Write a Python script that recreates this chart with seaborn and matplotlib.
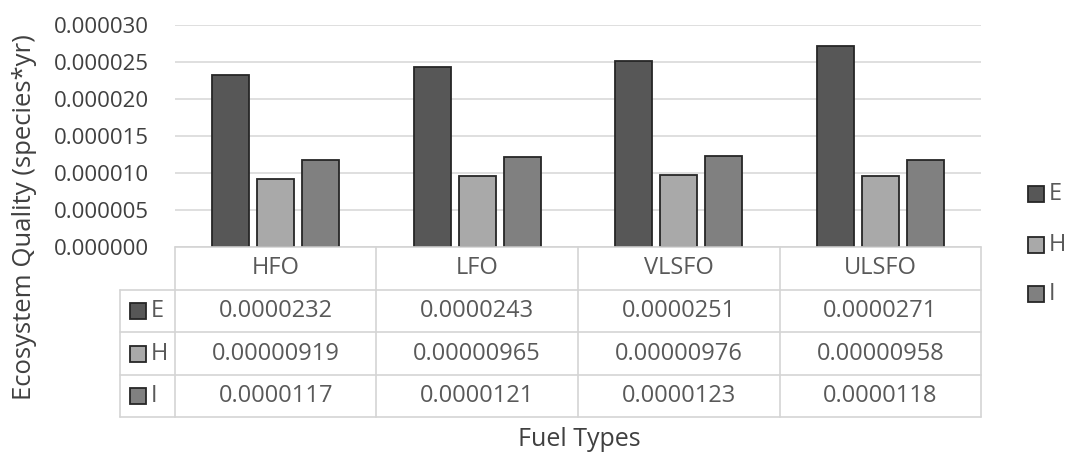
import pandas as pd
import numpy as np
import seaborn as sns
import matplotlib.pyplot as plt
from matplotlib.patches import Rectangle

fuels = ["HFO", "LFO", "VLSFO", "ULSFO"]
series = ["E", "H", "I"]
e_vals = [0.0000232, 0.0000243, 0.0000251, 0.0000271]
h_vals = [0.00000919, 0.00000965, 0.00000976, 0.00000958]
i_vals = [0.0000117, 0.0000121, 0.0000123, 0.0000118]
e_txt = ["0.0000232", "0.0000243", "0.0000251", "0.0000271"]
h_txt = ["0.00000919", "0.00000965", "0.00000976", "0.00000958"]
i_txt = ["0.0000117", "0.0000121", "0.0000123", "0.0000118"]
yticks = [0, 0.000005, 0.00001, 0.000015, 0.00002, 0.000025, 0.00003]

colors = {"E": "#575757", "H": "#a9a9a9", "I": "#808080"}
txtcol = "#595959"

sns.set_theme(style="white")
plt.rcParams['font.family'] = ['Open Sans', 'DejaVu Sans']

W, H = 1065, 454
fig = plt.figure(figsize=(W / 100, H / 100), dpi=100)


def fx(px):
    return px / W


def fy(py):
    return 1 - py / H


# plot area in pixels
x0, x1 = 175, 981
ytop, ybot = 25, 247
ax = fig.add_axes([fx(x0), fy(ybot), fx(x1 - x0), (ybot - ytop) / H])

df = pd.DataFrame({
    "fuel": fuels * 3,
    "cat": ["E"] * 4 + ["H"] * 4 + ["I"] * 4,
    "val": e_vals + h_vals + i_vals,
})
sns.barplot(data=df, x="fuel", y="val", hue="cat", palette=colors, ax=ax,
            width=0.67, gap=0.18, edgecolor="#262626", linewidth=1.3,
            legend=False, zorder=3)
ax.set_ylim(0, 0.00003)
ax.set_xlim(-0.5, 3.5)
ax.set_yticks(yticks)
ax.set_yticklabels(["%.6f" % v for v in yticks], fontsize=16, color="#404040")
ax.tick_params(axis="y", length=0, pad=19)
ax.set_xticks([])
ax.set_xlabel("")
ax.set_ylabel("")
ax.grid(axis="y", color="#d9d9d9", linewidth=1.2, zorder=0)
for s in ax.spines.values():
    s.set_visible(False)

# data table under the plot
lc = "#d4d4d4"
row_y = [247, 290, 332, 375, 417]
col_x = [x0 + k * (x1 - x0) / 4 for k in range(5)]
left = 120
fig.add_artist(plt.Line2D([fx(x0), fx(x1)], [fy(row_y[0])] * 2, color=lc, lw=1.2))
for yy in row_y[1:]:
    fig.add_artist(plt.Line2D([fx(left), fx(x1)], [fy(yy)] * 2, color=lc, lw=1.2))
for xx in col_x:
    fig.add_artist(plt.Line2D([fx(xx)] * 2, [fy(row_y[0]), fy(row_y[-1])], color=lc, lw=1.2))
fig.add_artist(plt.Line2D([fx(left)] * 2, [fy(row_y[1]), fy(row_y[-1])], color=lc, lw=1.2))

fs_tab = 17
sw = 16
for k, f in enumerate(fuels):
    cx = (col_x[k] + col_x[k + 1]) / 2
    fig.text(fx(cx), fy((row_y[0] + row_y[1]) / 2), f, ha="center", va="center",
             fontsize=fs_tab, color=txtcol)

rows = [e_txt, h_txt, i_txt]
for r, (name, vals) in enumerate(zip(series, rows)):
    cy = (row_y[r + 1] + row_y[r + 2]) / 2
    fig.add_artist(Rectangle((fx(130), fy(cy + sw / 2)), fx(sw), sw / H,
                             facecolor=colors[name], edgecolor="#262626", lw=1.3))
    fig.text(fx(151), fy(cy), name, ha="left", va="center", fontsize=fs_tab, color=txtcol)
    for k, v in enumerate(vals):
        cx = (col_x[k] + col_x[k + 1]) / 2
        fig.text(fx(cx), fy(cy), v, ha="center", va="center", fontsize=fs_tab, color=txtcol)

# legend at right
for name, ly in zip(series, [194, 245, 294]):
    fig.add_artist(Rectangle((fx(1028), fy(ly + sw / 2)), fx(sw), sw / H,
                             facecolor=colors[name], edgecolor="#262626", lw=1.3))
    fig.text(fx(1049), fy(ly), name, ha="left", va="center", fontsize=fs_tab, color=txtcol)

fig.text(fx(25), fy(217), "Ecosystem Quality (species*yr)", rotation=90,
         ha="center", va="center", fontsize=18.5, color="#404040")
fig.text(fx(579), fy(440), "Fuel Types", ha="center", va="center",
         fontsize=18, color="#404040")

fig.savefig("out.png", dpi=100, facecolor="white")
